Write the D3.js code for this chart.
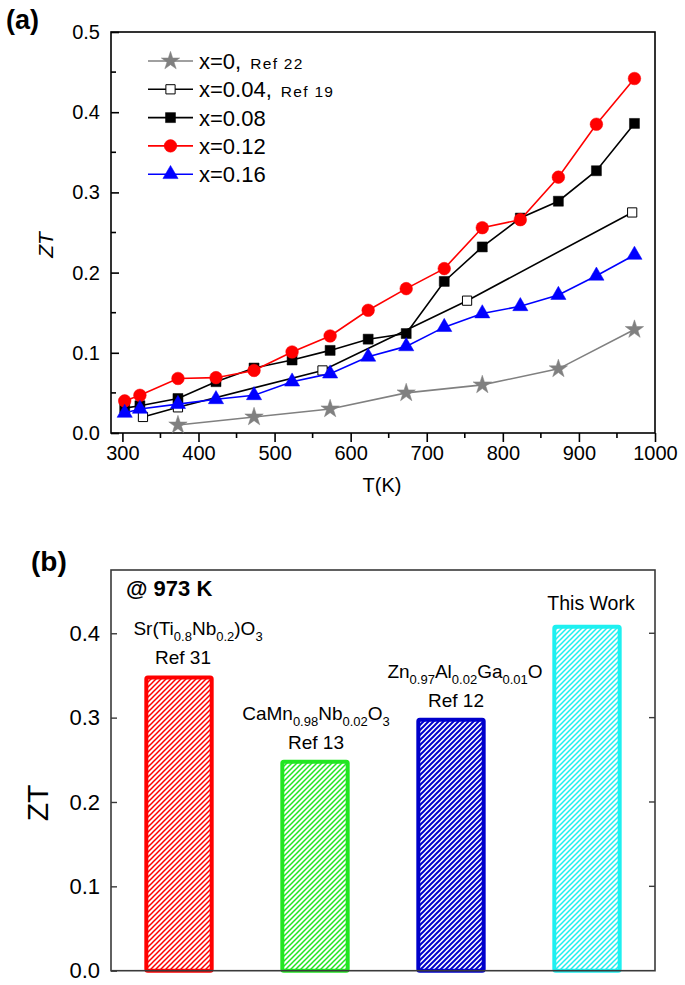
<!DOCTYPE html>
<html><head><meta charset="utf-8">
<script src="https://cdn.jsdelivr.net/npm/d3@7"></script>
<style>
body{margin:0;background:#fff;}
svg{display:block;font-family:Arial,"Liberation Sans",sans-serif;}
</style></head>
<body>
<script>
// ---------- Panel (a) data ----------
const seriesNames = ["x=0", "x=0.04", "x=0.08", "x=0.12", "x=0.16"];
const seriesRefs = ["Ref 22", "Ref 19", "", "", ""];
const T0   = [373, 473, 573, 673, 773, 873, 973];
const ZT0  = [0.010, 0.020, 0.030, 0.050, 0.060, 0.080, 0.129];
const T04  = [327, 373, 563, 753, 970];
const ZT04 = [0.020, 0.032, 0.078, 0.165, 0.275];
const T08  = [303, 323, 373, 423, 473, 523, 573, 623, 673, 723, 773, 823, 873, 923, 973];
const ZT08 = [0.031, 0.034, 0.043, 0.064, 0.081, 0.091, 0.103, 0.117, 0.124, 0.189, 0.232, 0.268, 0.289, 0.327, 0.386];
const T12  = [303, 323, 373, 423, 473, 523, 573, 623, 673, 723, 773, 823, 873, 923, 973];
const ZT12 = [0.040, 0.047, 0.068, 0.069, 0.078, 0.101, 0.121, 0.153, 0.180, 0.205, 0.256, 0.266, 0.319, 0.385, 0.442];
const T16  = [303, 323, 373, 423, 473, 523, 573, 623, 673, 723, 773, 823, 873, 923, 973];
const ZT16 = [0.025, 0.030, 0.036, 0.042, 0.047, 0.064, 0.074, 0.095, 0.108, 0.132, 0.149, 0.158, 0.172, 0.196, 0.222];
const xTicksA = [300, 400, 500, 600, 700, 800, 900, 1000];
const yTicksA = [0.0, 0.1, 0.2, 0.3, 0.4, 0.5];

// ---------- Panel (b) data ----------
const barKeys = ["SrTiNb", "CaMnNb", "ZnAlGa", "This"];
const barValues = [0.35, 0.25, 0.30, 0.41];
const barFormulas = [
  [["Sr(Ti",""],["0.8","sub"],["Nb",""],["0.2","sub"],[")O",""],["3","sub"]],
  [["CaMn",""],["0.98","sub"],["Nb",""],["0.02","sub"],["O",""],["3","sub"]],
  [["Zn",""],["0.97","sub"],["Al",""],["0.02","sub"],["Ga",""],["0.01","sub"],["O",""]],
  []
];
const barRefs = ["Ref 31", "Ref 13", "Ref 12", "This Work"];
const yTicksB = [0.0, 0.1, 0.2, 0.3, 0.4];

// ---------- styles ----------
const seriesStyle = [
  {color:"#808080", sym:d3.symbolStar, size:105, fill:"#808080", stroke:"#808080"},
  {color:"#000000", sym:d3.symbolSquare, size:85, fill:"#ffffff", stroke:"#000000"},
  {color:"#000000", sym:d3.symbolSquare, size:100, fill:"#000000", stroke:"#000000"},
  {color:"#ff0000", sym:d3.symbolCircle, size:125, fill:"#ff0000", stroke:"#ff0000"},
  {color:"#0000ff", sym:d3.symbolTriangle, size:100, fill:"#0000ff", stroke:"#0000ff"}
];
const barColors = ["#ff0000", "#22e622", "#0000cc", "#1ef0f0"];
const hatchWidths = [1.5, 1.5, 2.0, 1.5];
const formulaDx = [19, 1, 14, 0];
const refDx = [4, 1, 5, 4];

const W = 685, H = 985;
const svg = d3.select("body").append("svg").attr("width", W).attr("height", H);

// ================= Panel (a) =================
const ax = {l:111, r:655, t:32, b:433};
const xA = d3.scaleLinear().domain([285, 1000]).range([ax.l, ax.r]);
const yA = d3.scaleLinear().domain([0, 0.5]).range([ax.b, ax.t]);

const gA = svg.append("g");
gA.append("rect").attr("x", ax.l).attr("y", ax.t).attr("width", ax.r-ax.l).attr("height", ax.b-ax.t)
  .attr("fill","none").attr("stroke","#000").attr("stroke-width",1.6);

const xAxisA = d3.axisBottom(xA).tickValues(xTicksA).tickSize(9).tickPadding(4).tickFormat(d3.format("d"));
const gx = gA.append("g").attr("transform",`translate(0,${ax.b})`).call(xAxisA);
gx.select(".domain").remove();
gx.selectAll(".tick line").attr("stroke","#000").attr("stroke-width",1.6);
gx.selectAll(".tick text").attr("font-size",20).attr("fill","#000").attr("font-family","Arial, 'Liberation Sans', sans-serif");
const xMinorA = d3.range(350, 1000, 100);
gA.append("g").selectAll("line").data(xMinorA).join("line")
  .attr("x1", d=>xA(d)).attr("x2", d=>xA(d)).attr("y1", ax.b).attr("y2", ax.b+5)
  .attr("stroke","#000").attr("stroke-width",1.6);

const yAxisA = d3.axisLeft(yA).tickValues(yTicksA).tickSize(-8).tickPadding(11).tickFormat(d3.format(".1f"));
const gy = gA.append("g").attr("transform",`translate(${ax.l},0)`).call(yAxisA);
gy.select(".domain").remove();
gy.selectAll(".tick line").attr("stroke","#000").attr("stroke-width",1.6);
gy.selectAll(".tick text").attr("font-size",20).attr("fill","#000").attr("font-family","Arial, 'Liberation Sans', sans-serif");
const yMinorA = [0.05, 0.15, 0.25, 0.35, 0.45];
gA.append("g").selectAll("line").data(yMinorA).join("line")
  .attr("x1", ax.l).attr("x2", ax.l+5).attr("y1", d=>yA(d)).attr("y2", d=>yA(d))
  .attr("stroke","#000").attr("stroke-width",1.6);

gA.append("text").attr("transform",`translate(53,245) rotate(-90)`).attr("text-anchor","middle")
  .attr("font-size",21).attr("font-style","italic").text("ZT");
gA.append("text").attr("x",382).attr("y",492).attr("text-anchor","middle").attr("font-size",20).text("T(K)");
svg.append("text").attr("x",6).attr("y",29).attr("font-size",27).attr("font-weight","bold").text("(a)");

const allSeries = [
  T0.map((t,i)=>({T:t, ZT:ZT0[i]})),
  T04.map((t,i)=>({T:t, ZT:ZT04[i]})),
  T08.map((t,i)=>({T:t, ZT:ZT08[i]})),
  T12.map((t,i)=>({T:t, ZT:ZT12[i]})),
  T16.map((t,i)=>({T:t, ZT:ZT16[i]}))
];
const line = d3.line().x(d=>xA(d.T)).y(d=>yA(d.ZT));
allSeries.forEach((data, si) => {
  const st = seriesStyle[si];
  const g = gA.append("g");
  g.append("path").datum(data).attr("d", line).attr("fill","none").attr("stroke", st.color).attr("stroke-width",1.6);
  g.selectAll("path.m").data(data).join("path").attr("class","m")
    .attr("transform", d=>`translate(${xA(d.T)},${yA(d.ZT)})`)
    .attr("d", d3.symbol().type(st.sym).size(st.size))
    .attr("fill", st.fill).attr("stroke", st.stroke).attr("stroke-width", si===1 ? 1 : 0.5);
});

// legend
const legY0 = 61, legDy = 28.3;
const leg = gA.append("g");
seriesNames.forEach((nm, i) => {
  const st = seriesStyle[i];
  const y = legY0 + i*legDy;
  leg.append("line").attr("x1",148).attr("x2",193).attr("y1",y).attr("y2",y).attr("stroke",st.color).attr("stroke-width",1.6);
  leg.append("path").attr("transform",`translate(170.5,${y})`).attr("d", d3.symbol().type(st.sym).size(st.size))
    .attr("fill", st.fill).attr("stroke", st.stroke).attr("stroke-width", i===1 ? 1 : 0.5);
  const t = leg.append("text").attr("x",199).attr("y",y+8).attr("font-size",22);
  t.append("tspan").text(nm);
  if (seriesRefs[i]) {
    t.append("tspan").text(",");
    t.append("tspan").attr("font-size",15.5).attr("letter-spacing",1.3).attr("dx",9).text(seriesRefs[i]);
  }
});

// ================= Panel (b) =================
const bx = {l:111, r:655, t:570, b:970.7};
const xB = d3.scaleBand().domain(barKeys).range([bx.l, bx.r]).paddingInner(0.49).paddingOuter(0.245);
const yB = d3.scaleLinear().domain([0, 0.475]).range([bx.b, bx.t]);
const gB = svg.append("g");
const axisCol = "#3a3a3a";

const defs = svg.append("defs");
barColors.forEach((c, i) => {
  const w = 5;
  const p = defs.append("pattern").attr("id","hatch"+i).attr("patternUnits","userSpaceOnUse")
    .attr("width", w).attr("height", w);
  p.append("rect").attr("width",w).attr("height",w).attr("fill","#fff");
  p.append("path").attr("d",`M0,${w} L${w},0 M${-w/2},${w/2} L${w/2},${-w/2} M${w/2},${w*1.5} L${w*1.5},${w/2}`)
    .attr("stroke", c).attr("stroke-width", hatchWidths[i]);
});

gB.selectAll("rect.bar").data(barKeys).join("rect").attr("class","bar")
  .attr("x", d=>xB(d)+2).attr("width", xB.bandwidth()-4)
  .attr("y", (d,i)=>yB(barValues[i])+2).attr("height", (d,i)=>yB(0)-yB(barValues[i])-2)
  .attr("fill", (d,i)=>`url(#hatch${i})`).attr("stroke", (d,i)=>barColors[i]).attr("stroke-width",4)
  .attr("rx",1.5);

gB.append("rect").attr("x", bx.l).attr("y", bx.t).attr("width", bx.r-bx.l).attr("height", bx.b-bx.t)
  .attr("fill","none").attr("stroke",axisCol).attr("stroke-width",1.6);

const yAxisB = d3.axisLeft(yB).tickValues(yTicksB).tickSize(-6).tickPadding(11).tickFormat(d3.format(".1f"));
const gyb = gB.append("g").attr("transform",`translate(${bx.l},0)`).call(yAxisB);
gyb.select(".domain").remove();
gyb.selectAll(".tick line").attr("stroke",axisCol).attr("stroke-width",1.4);
gyb.selectAll(".tick text").attr("font-size",22).attr("fill","#000").attr("font-family","Arial, 'Liberation Sans', sans-serif");
gB.append("g").selectAll("line").data(yTicksB.slice(1)).join("line")
  .attr("x1", bx.r).attr("x2", bx.r-6).attr("y1", d=>yB(d)).attr("y2", d=>yB(d))
  .attr("stroke",axisCol).attr("stroke-width",1.4);

gB.append("text").attr("transform",`translate(48,803) rotate(-90)`).attr("text-anchor","middle")
  .attr("font-size",30).text("ZT");
svg.append("text").attr("x",31).attr("y",571).attr("font-size",28).attr("font-weight","bold").text("(b)");
gB.append("text").attr("x",126).attr("y",596).attr("font-size",22).attr("font-weight","bold").text("@ 973 K");

barKeys.forEach((k, i) => {
  const cx = xB(k) + xB.bandwidth()/2;
  const top = yB(barValues[i]);
  const isLast = barFormulas[i].length === 0;
  gB.append("text").attr("x", cx + refDx[i]).attr("y", top - (isLast ? 15 : 11))
    .attr("text-anchor","middle").attr("font-size", isLast ? 19.5 : 19).text(barRefs[i]);
  if (!isLast) {
    const t = gB.append("text").attr("x", cx + formulaDx[i]).attr("y", top - 40)
      .attr("text-anchor","middle").attr("font-size",19);
    let shifted = false;
    barFormulas[i].forEach(([s, kind]) => {
      const ts = t.append("tspan").text(s);
      if (kind === "sub") {
        ts.attr("font-size",13).attr("dy", shifted ? 0 : 6);
        shifted = true;
      } else {
        if (shifted) ts.attr("dy", -6);
        shifted = false;
      }
    });
  }
});
</script>
</body></html>
